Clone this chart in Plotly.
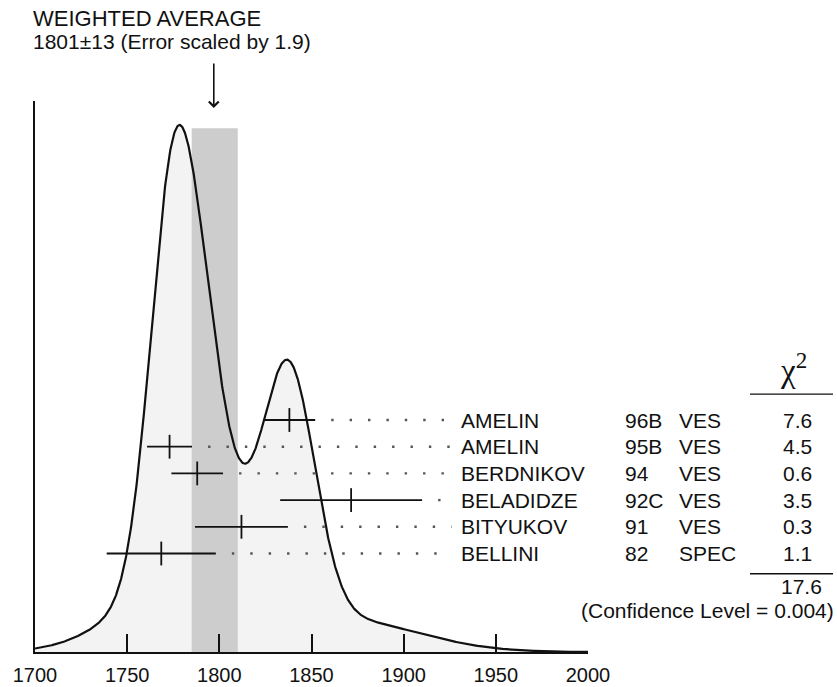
import numpy as np
import plotly.graph_objects as go

# ---- data ----
names = ["AMELIN", "AMELIN", "BERDNIKOV", "BELADIDZE", "BITYUKOV", "BELLINI"]
codes = ["96B", "95B", "94", "92C", "91", "82"]
exps = ["VES", "VES", "VES", "VES", "VES", "SPEC"]
values = [1838, 1773, 1788, 1871.5, 1812, 1768.5]
errors = [14, 12.2, 14, 38.5, 25.2, 29.6]
chi2 = ["7.6", "4.5", "0.6", "3.5", "0.3", "1.1"]
chi2_total = "17.6"
conf_level = "0.004"
avg_label = "1801\u00b113 (Error scaled by 1.9)"
band_lo, band_hi, band_top = 1785, 1810, 0.994
arrow_x = 1797
xticks = [1700, 1750, 1800, 1850, 1900, 1950, 2000]

# ---- ideogram: sum of gaussians, area proportional to 1/error ----
xs = np.linspace(1700, 2000, 1201)
curve = np.zeros_like(xs)
for v, e in zip(values, errors):
    curve += (1.0 / e) * np.exp(-0.5 * ((xs - v) / e) ** 2) / (e * np.sqrt(2 * np.pi))
curve = curve / curve.max()

FONT = "Liberation Sans, Arial, sans-serif"
W, H = 837, 687
L, R, T, B = 35, 249, 101, 35
pw = W - L - R
ph = H - T - B

row0_px, row_step = 420, 26.7  # pixel of first row, spacing


def px2paper_x(px):
    return (px - L) / pw


def px2paper_y(py):
    return (H - B - py) / ph


y2_top = (row0_px - T) / row_step
y2_bot = -(H - B - row0_px) / row_step

fig = go.Figure()
# filled area under curve
fig.add_trace(go.Scatter(x=xs, y=curve, mode="lines", line=dict(width=0),
                         fill="tozeroy", fillcolor="#f3f3f3", hoverinfo="skip"))
# weighted average band
fig.add_trace(go.Scatter(x=[band_lo, band_hi, band_hi, band_lo, band_lo],
                         y=[0, 0, band_top, band_top, 0], mode="lines",
                         line=dict(width=0), fill="toself", fillcolor="#cdcdcd",
                         hoverinfo="skip"))
# curve line
fig.add_trace(go.Scatter(x=xs, y=curve, mode="lines",
                         line=dict(color="#111111", width=2.2), hoverinfo="skip"))

rows = [-i for i in range(len(names))]
dot_end = 1926
for v, e, r in zip(values, errors, rows):
    start = v + e + 8.7
    fig.add_trace(go.Scatter(x=[start, dot_end], y=[r, r], yaxis="y2", mode="lines",
                             line=dict(color="#555555", width=2.4, dash="2.4px,16px"),
                             hoverinfo="skip"))
fig.add_trace(go.Scatter(x=values, y=rows, yaxis="y2", mode="markers",
                         marker=dict(symbol="line-ns", size=17,
                                     line=dict(width=1.8, color="#111111")),
                         error_x=dict(type="data", array=errors, width=0,
                                      thickness=1.8, color="#111111"),
                         hoverinfo="skip"))

ann = []
txt = dict(family=FONT, size=21, color="#111111")
for n, c, ex, ch, r in zip(names, codes, exps, chi2, rows):
    ann.append(dict(x=px2paper_x(459), y=r, xref="paper", yref="y2", text=n,
                    xanchor="left", yanchor="middle", showarrow=False, font=txt))
    ann.append(dict(x=px2paper_x(623), y=r, xref="paper", yref="y2", text=c,
                    xanchor="left", yanchor="middle", showarrow=False, font=txt))
    ann.append(dict(x=px2paper_x(677), y=r, xref="paper", yref="y2", text=ex,
                    xanchor="left", yanchor="middle", showarrow=False, font=txt))
    ann.append(dict(x=px2paper_x(797), y=r, xref="paper", yref="y2", text=ch,
                    xanchor="center", yanchor="middle", showarrow=False, font=txt))
last = rows[-1]
ann.append(dict(x=px2paper_x(801), y=last - 1.22, xref="paper", yref="y2", text=chi2_total,
                xanchor="center", yanchor="middle", showarrow=False, font=txt))
ann.append(dict(x=px2paper_x(836), y=last - 2.12, xref="paper", yref="y2",
                text="(Confidence Level = " + conf_level + ")",
                xanchor="right", yanchor="middle", showarrow=False, font=txt))
ann.append(dict(x=px2paper_x(793), y=1.95, xref="paper", yref="y2",
                text="\u03c7<sup>2</sup>", xanchor="center", yanchor="middle",
                showarrow=False, font=dict(family="Liberation Serif, serif", size=33,
                                           color="#111111")))
ann.append(dict(x=px2paper_x(31), y=px2paper_y(18), xref="paper", yref="paper",
                text="WEIGHTED AVERAGE", xanchor="left", yanchor="middle",
                showarrow=False, font=dict(family=FONT, size=22, color="#111111")))
ann.append(dict(x=px2paper_x(31), y=px2paper_y(41), xref="paper", yref="paper",
                text=avg_label, xanchor="left", yanchor="middle",
                showarrow=False, font=dict(family=FONT, size=21, color="#111111")))
ann.append(dict(x=arrow_x, y=px2paper_y(108), xref="x", yref="paper", text="",
                showarrow=True, ax=0, ay=-46, arrowhead=4, arrowsize=1.2,
                arrowwidth=1.6, arrowcolor="#111111"))

shapes = [
    dict(type="line", xref="paper", yref="y2", x0=px2paper_x(750), x1=px2paper_x(833),
         y0=0.97, y1=0.97, line=dict(color="#111111", width=1.4)),
    dict(type="line", xref="paper", yref="y2", x0=px2paper_x(750), x1=px2paper_x(833),
         y0=last - 0.76, y1=last - 0.76, line=dict(color="#111111", width=1.4)),
]

fig.update_layout(
    width=W, height=H, margin=dict(l=L, r=R, t=T, b=B, autoexpand=False),
    paper_bgcolor="white", plot_bgcolor="white", showlegend=False,
    annotations=ann, shapes=shapes,
    xaxis=dict(range=[1700, 2000], tickvals=xticks, ticks="inside", ticklen=18,
               tickwidth=1.6, tickcolor="#111111", showline=True, linecolor="#111111",
               linewidth=1.6, showgrid=False, zeroline=False, ticklabelstandoff=4,
               tickfont=dict(family=FONT, size=20, color="#111111")),
    yaxis=dict(range=[0, (H - B - T) / (H - B - 125)], showline=True,
               linecolor="#111111", linewidth=1.6, showticklabels=False, ticks="",
               showgrid=False, zeroline=False),
    yaxis2=dict(range=[y2_bot, y2_top], overlaying="y", visible=False),
)
fig.write_html("out.html")
